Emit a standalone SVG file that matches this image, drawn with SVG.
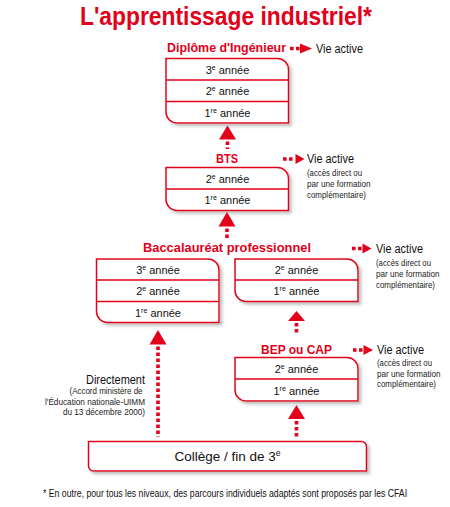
<svg xmlns="http://www.w3.org/2000/svg" width="450" height="507" viewBox="0 0 450 507">
<defs>
<filter id="sh" x="-10%" y="-10%" width="130%" height="140%">
<feDropShadow dx="2.5" dy="2.5" stdDeviation="1.5" flood-color="#8a8a8a" flood-opacity="0.55"/>
</filter>
<style>
text{font-family:"Liberation Sans",Arial,sans-serif}
.ttl{font-size:26px;font-weight:bold;fill:#e2001a}
.lbl{font-size:13px;font-weight:bold;fill:#e2001a}
.va{font-size:12.5px;fill:#111}
.sm{font-size:9px;fill:#222}
.row{font-size:11px;fill:#111;text-anchor:middle}
.box{fill:#fff;stroke:#e2001a;stroke-width:1.5;filter:url(#sh)}
.div{stroke:#e2001a;stroke-width:1.5}
.dot{stroke:#e2001a;stroke-width:3.6;stroke-dasharray:3.6 2.4;fill:none}
.tri{fill:#e2001a}
</style>
</defs>
<rect width="450" height="507" fill="#fff"/>
<text class="ttl" x="80" y="25" textLength="292" lengthAdjust="spacingAndGlyphs">L'apprentissage industriel*</text>

<g id="diplome">
<text class="lbl" x="167" y="52" textLength="119" lengthAdjust="spacingAndGlyphs">Diplôme d'Ingénieur</text>
<path class="box" d="M166 58.5 H277.5 A11 11 0 0 1 288.5 69.5 V123 H177 A11 11 0 0 1 166 112 Z"/>
<line class="div" x1="166" y1="80" x2="288.5" y2="80"/>
<line class="div" x1="166" y1="101.5" x2="288.5" y2="101.5"/>
<text class="row" x="227.5" y="73.5">3<tspan dy="-4" font-size="7">e</tspan><tspan dy="4"> année</tspan></text>
<text class="row" x="227.5" y="95">2<tspan dy="-4" font-size="7">e</tspan><tspan dy="4"> année</tspan></text>
<text class="row" x="227.5" y="116.5">1<tspan dy="-4" font-size="7">re</tspan><tspan dy="4"> année</tspan></text>
</g>

<g id="va1">
<text class="va" x="316" y="53" textLength="47" lengthAdjust="spacingAndGlyphs">Vie active</text>
</g>

<g id="bts">
<text class="lbl" x="216" y="163" textLength="22" lengthAdjust="spacingAndGlyphs">BTS</text>
<path class="box" d="M166 167.5 H277.5 A11 11 0 0 1 288.5 178.5 V210.5 H177 A11 11 0 0 1 166 199.5 Z"/>
<line class="div" x1="166" y1="189" x2="288.5" y2="189"/>
<text class="row" x="227.5" y="183">2<tspan dy="-4" font-size="7">e</tspan><tspan dy="4"> année</tspan></text>
<text class="row" x="227.5" y="204">1<tspan dy="-4" font-size="7">re</tspan><tspan dy="4"> année</tspan></text>
</g>

<g id="va2">
<text class="va" x="307" y="163" textLength="47" lengthAdjust="spacingAndGlyphs">Vie active</text>
<text class="sm" x="307" y="176" textLength="55" lengthAdjust="spacingAndGlyphs">(accès direct ou</text>
<text class="sm" x="307" y="187" textLength="63.5" lengthAdjust="spacingAndGlyphs">par une formation</text>
<text class="sm" x="307" y="198" textLength="59" lengthAdjust="spacingAndGlyphs">complémentaire)</text>
</g>

<g id="bacpro">
<text class="lbl" x="143" y="252" textLength="168" lengthAdjust="spacingAndGlyphs">Baccalauréat professionnel</text>
<path class="box" d="M96.5 259 H208 A11 11 0 0 1 219 270 V322.5 H107.5 A11 11 0 0 1 96.5 311.5 Z"/>
<line class="div" x1="96.5" y1="280" x2="219" y2="280"/>
<line class="div" x1="96.5" y1="301.5" x2="219" y2="301.5"/>
<text class="row" x="158" y="274">3<tspan dy="-4" font-size="7">e</tspan><tspan dy="4"> année</tspan></text>
<text class="row" x="158" y="295">2<tspan dy="-4" font-size="7">e</tspan><tspan dy="4"> année</tspan></text>
<text class="row" x="158" y="316.5">1<tspan dy="-4" font-size="7">re</tspan><tspan dy="4"> année</tspan></text>
<path class="box" d="M235 259 H347 A11 11 0 0 1 358 270 V301.5 H246 A11 11 0 0 1 235 290.5 Z"/>
<line class="div" x1="235" y1="280" x2="358" y2="280"/>
<text class="row" x="296.5" y="274">2<tspan dy="-4" font-size="7">e</tspan><tspan dy="4"> année</tspan></text>
<text class="row" x="296.5" y="295">1<tspan dy="-4" font-size="7">re</tspan><tspan dy="4"> année</tspan></text>
</g>

<g id="va3">
<text class="va" x="376" y="253" textLength="47" lengthAdjust="spacingAndGlyphs">Vie active</text>
<text class="sm" x="376" y="265.5" textLength="55" lengthAdjust="spacingAndGlyphs">(accès direct ou</text>
<text class="sm" x="376" y="276.5" textLength="63.5" lengthAdjust="spacingAndGlyphs">par une formation</text>
<text class="sm" x="376" y="287.5" textLength="59" lengthAdjust="spacingAndGlyphs">complémentaire)</text>
</g>

<g id="bep">
<text class="lbl" x="261" y="354" textLength="71" lengthAdjust="spacingAndGlyphs">BEP ou CAP</text>
<path class="box" d="M235 357.5 H347 A11 11 0 0 1 358 368.5 V401 H246 A11 11 0 0 1 235 390 Z"/>
<line class="div" x1="235" y1="379" x2="358" y2="379"/>
<text class="row" x="296.5" y="373">2<tspan dy="-4" font-size="7">e</tspan><tspan dy="4"> année</tspan></text>
<text class="row" x="296.5" y="395">1<tspan dy="-4" font-size="7">re</tspan><tspan dy="4"> année</tspan></text>
</g>

<g id="va4">
<text class="va" x="377" y="354" textLength="47" lengthAdjust="spacingAndGlyphs">Vie active</text>
<text class="sm" x="377" y="365.5" textLength="55" lengthAdjust="spacingAndGlyphs">(accès direct ou</text>
<text class="sm" x="377" y="376.5" textLength="63.5" lengthAdjust="spacingAndGlyphs">par une formation</text>
<text class="sm" x="377" y="387" textLength="59" lengthAdjust="spacingAndGlyphs">complémentaire)</text>
</g>

<g id="directement">
<text class="va" x="86" y="383.5" textLength="59" lengthAdjust="spacingAndGlyphs" style="font-size:13px">Directement</text>
<text class="sm" x="69.5" y="394" textLength="73" lengthAdjust="spacingAndGlyphs">(Accord ministère de</text>
<text class="sm" x="45" y="404.5" textLength="100" lengthAdjust="spacingAndGlyphs">l'Éducation nationale-UIMM</text>
<text class="sm" x="63" y="415" textLength="82" lengthAdjust="spacingAndGlyphs">du 13 décembre 2000)</text>
</g>

<g id="college">
<path class="box" d="M88.5 441.5 H361.5 A5 5 0 0 1 366.5 446.5 V471 H93.5 A5 5 0 0 1 88.5 466 Z"/>
<text x="227.5" y="461" text-anchor="middle" style="font-size:13.5px;fill:#111">Collège / fin de 3<tspan dy="-5" font-size="8.5">e</tspan></text>
</g>

<g id="connectors">
<polygon class="tri" points="227.5,125.5 236,139.5 219,139.5"/>
<line class="dot" x1="227.5" y1="141.5" x2="227.5" y2="149"/>
<polygon class="tri" points="227,212 235.5,226.5 218.5,226.5"/>
<line class="dot" x1="227" y1="228.5" x2="227" y2="240"/>
<polygon class="tri" points="158,330 166.5,344.5 149.5,344.5"/>
<line class="dot" x1="158" y1="346.5" x2="158" y2="437"/>
<polygon class="tri" points="296.5,311 305,321 288,321"/>
<line class="dot" x1="296.5" y1="323" x2="296.5" y2="335"/>
<polygon class="tri" points="296.5,405 305,419 288,419"/>
<line class="dot" x1="296.5" y1="421" x2="296.5" y2="439"/>
<line class="dot" x1="290" y1="48.5" x2="300" y2="48.5"/>
<polygon class="tri" points="300,43.5 312,48.5 300,53.5"/>
<line class="dot" x1="283" y1="159" x2="295" y2="159"/>
<polygon class="tri" points="295.5,154 304.5,159 295.5,164"/>
<line class="dot" x1="352" y1="248.5" x2="363" y2="248.5"/>
<polygon class="tri" points="362.5,243.5 371.5,248.5 362.5,253.5"/>
<line class="dot" x1="353" y1="350" x2="364" y2="350"/>
<polygon class="tri" points="363.5,345 373,350 363.5,355"/>
</g>

<text transform="translate(43,497) scale(0.82,1)" x="0" y="0" textLength="444" lengthAdjust="spacingAndGlyphs" style="font-size:10px;fill:#111">* En outre, pour tous les niveaux, des parcours individuels adaptés sont proposés par les CFAI</text>
</svg>
